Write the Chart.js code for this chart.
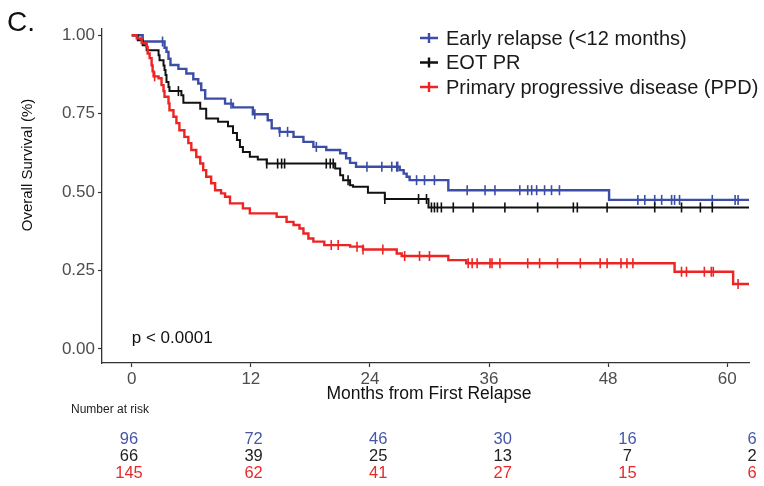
<!DOCTYPE html>
<html>
<head>
<meta charset="utf-8">
<script src="https://cdn.jsdelivr.net/npm/chart.js@4.4.1/dist/chart.umd.min.js"></script>
<style>
  html, body { margin: 0; padding: 0; background: #fff; }
  #wrap { position: relative; width: 764px; height: 486px; }
</style>
</head>
<body>
<div id="wrap"><canvas id="kmChart" width="764" height="486"></canvas></div>
<script>
// Kaplan-Meier overall survival by group
const seriesNames = ['Early relapse (<12 months)', 'EOT PR', 'Primary progressive disease (PPD)'];
const seriesColors = ['#3b4da6', '#111111', '#ee2323'];
const riskColors = ['#4657a8', '#222222', '#e8292b'];

// Early relapse: event times (months) and survival after each event
const earlyTimes = [0, 1.1, 3.3, 3.5, 3.7, 3.9, 4.7, 5.5, 6.2, 6.7, 7.0, 7.4, 9.4, 10.2, 12.2, 13.7, 14.1, 14.9, 16.3, 17.3, 18.3, 19.6, 21.0, 21.6, 22.0, 22.6, 27.0, 27.4, 27.7, 28.0, 31.9, 48.1, 62.2];
const earlySurv  = [1.0, 0.98, 0.96, 0.947, 0.925, 0.905, 0.893, 0.878, 0.86, 0.846, 0.825, 0.798, 0.782, 0.77, 0.748, 0.729, 0.703, 0.692, 0.676, 0.66, 0.644, 0.634, 0.624, 0.608, 0.593, 0.581, 0.57, 0.559, 0.549, 0.538, 0.506, 0.475, 0.475];
const earlyCensor = [3.1, 10.0, 12.4, 14.9, 15.7, 18.6, 23.7, 25.2, 26.2, 26.7, 26.8, 28.7, 29.5, 30.5, 33.8, 35.6, 36.6, 39.1, 39.9, 40.3, 40.8, 41.6, 42.3, 43.1, 51.0, 51.7, 52.7, 53.4, 54.4, 54.7, 55.2, 58.5, 60.8, 61.1];

// EOT PR
const eotTimes = [0, 0.6, 1.1, 1.5, 2.7, 2.8, 3.2, 3.3, 3.4, 3.5, 3.7, 3.8, 5.0, 5.2, 6.9, 7.5, 8.7, 9.7, 10.2, 10.6, 10.9, 11.2, 11.9, 12.7, 13.6, 20.5, 21.0, 21.3, 22.0, 22.3, 23.8, 25.5, 29.9, 62.2];
const eotSurv  = [1.0, 0.984, 0.968, 0.952, 0.936, 0.92, 0.904, 0.889, 0.873, 0.851, 0.835, 0.822, 0.809, 0.785, 0.766, 0.735, 0.724, 0.71, 0.688, 0.666, 0.644, 0.628, 0.613, 0.604, 0.591, 0.575, 0.554, 0.538, 0.522, 0.517, 0.498, 0.478, 0.451, 0.451];
const eotCensor = [4.7, 13.6, 14.7, 15.1, 15.4, 19.6, 20.0, 20.3, 21.8, 25.5, 28.9, 29.7, 30.2, 30.5, 30.8, 31.2, 32.4, 34.4, 37.6, 40.9, 44.5, 44.9, 47.9, 52.7, 55.4, 57.3, 58.5];

// Primary progressive disease
const ppdTimes = [0, 0.5, 1.0, 1.5, 1.6, 1.8, 2.0, 2.1, 2.2, 2.7, 3.0, 3.2, 3.3, 3.7, 3.8, 4.2, 4.5, 4.8, 5.3, 5.7, 6.0, 6.5, 6.9, 7.2, 7.5, 8.0, 8.4, 9.0, 9.4, 9.9, 11.2, 11.9, 14.6, 15.6, 16.3, 16.9, 17.3, 17.8, 18.3, 19.4, 22.0, 23.3, 26.7, 27.2, 31.9, 33.7, 54.7, 60.6, 62.2];
const ppdSurv  = [1.0, 0.99, 0.975, 0.963, 0.942, 0.927, 0.904, 0.885, 0.869, 0.863, 0.841, 0.822, 0.804, 0.783, 0.761, 0.74, 0.72, 0.697, 0.676, 0.656, 0.634, 0.612, 0.591, 0.57, 0.549, 0.528, 0.506, 0.496, 0.485, 0.464, 0.448, 0.432, 0.421, 0.405, 0.395, 0.384, 0.368, 0.352, 0.342, 0.331, 0.326, 0.317, 0.304, 0.296, 0.283, 0.273, 0.246, 0.207, 0.207];
const ppdCensor = [2.3, 20.1, 20.8, 22.7, 23.3, 25.3, 27.5, 29.0, 30.0, 33.9, 34.3, 34.8, 36.1, 36.3, 37.1, 39.9, 41.1, 42.9, 45.2, 47.2, 47.9, 49.3, 49.9, 50.5, 55.4, 55.9, 57.7, 58.4, 58.6, 61.1];

// Number at risk table
const riskTimes = [0, 12, 24, 36, 48, 60];
const earlyRisk = [96, 72, 46, 30, 16, 6];
const eotRisk = [66, 39, 25, 13, 7, 2];
const ppdRisk = [145, 62, 41, 27, 15, 6];

const xTicks = [0, 12, 24, 36, 48, 60];
const yTicks = [0, 0.25, 0.5, 0.75, 1];

const FONT = "'Liberation Sans', Arial, Helvetica, sans-serif";

function toPoints(times, surv) {
    return times.map((t, i) => ({ x: t, y: surv[i] }));
}

// survival value of a step curve at time t
function survAt(times, surv, t) {
    let s = surv[0];
    for (let i = 0; i < times.length; i++) {
        if (times[i] <= t) s = surv[i];
    }
    return s;
}

function censorPoints(censor, times, surv) {
    return censor.map(t => ({ x: t, y: survAt(times, surv, t) }));
}

const curves = [
    { times: earlyTimes, surv: earlySurv, censor: earlyCensor, width: 2.4 },
    { times: eotTimes, surv: eotSurv, censor: eotCensor, width: 2 },
    { times: ppdTimes, surv: ppdSurv, censor: ppdCensor, width: 2.4 }
];

const datasets = [];
curves.forEach((c, i) => {
    datasets.push({
        type: 'line',
        label: seriesNames[i],
        data: toPoints(c.times, c.surv),
        stepped: 'before',
        borderColor: seriesColors[i],
        borderWidth: c.width,
        pointRadius: 0,
        fill: false,
        order: 3 - i
    });
    datasets.push({
        type: 'scatter',
        label: seriesNames[i] + ' censored',
        data: censorPoints(c.censor, c.times, c.surv),
        pointStyle: 'line',
        rotation: 90,
        radius: 5,
        borderColor: seriesColors[i],
        borderWidth: 1.6,
        order: 3 - i
    });
});

const riskRows = [earlyRisk, eotRisk, ppdRisk];

const overlay = {
    id: 'overlay',
    afterDraw(chart) {
        const { ctx } = chart;
        const xs = chart.scales.x;
        const ys = chart.scales.y;
        ctx.save();

        // panel letter
        ctx.fillStyle = '#111';
        ctx.font = '28px ' + FONT;
        ctx.textAlign = 'left';
        ctx.textBaseline = 'middle';
        ctx.fillText('C.', 7, 23);

        // y title
        ctx.save();
        ctx.translate(28, 165);
        ctx.rotate(-Math.PI / 2);
        ctx.textAlign = 'center';
        ctx.font = '15px ' + FONT;
        ctx.fillStyle = '#111';
        ctx.fillText('Overall Survival (%)', 0, 0);
        ctx.restore();

        // x title
        ctx.textAlign = 'center';
        ctx.font = '17.5px ' + FONT;
        ctx.fillStyle = '#111';
        ctx.fillText('Months from First Relapse', 429, 394);

        // p value
        ctx.textAlign = 'left';
        ctx.font = '17px ' + FONT;
        ctx.fillText('p < 0.0001', xs.getPixelForValue(0), ys.getPixelForValue(0.033));

        // legend
        ctx.font = '20px ' + FONT;
        seriesNames.forEach((name, i) => {
            const ly = 38 + i * 24.5;
            ctx.strokeStyle = seriesColors[i];
            ctx.lineWidth = 2.4;
            ctx.beginPath();
            ctx.moveTo(420, ly);
            ctx.lineTo(438, ly);
            ctx.moveTo(429, ly - 5);
            ctx.lineTo(429, ly + 5);
            ctx.stroke();
            ctx.fillStyle = '#1a1a1a';
            ctx.fillText(name, 446, ly + 1);
        });

        // number at risk
        ctx.font = '12px ' + FONT;
        ctx.fillStyle = '#222';
        ctx.fillText('Number at risk', 71, 410);

        ctx.font = '16.5px ' + FONT;
        ctx.textAlign = 'center';
        riskRows.forEach((row, r) => {
            ctx.fillStyle = riskColors[r];
            row.forEach((n, k) => {
                const cx = 129 + (riskTimes[k] / 12) * 124.6;
                ctx.fillText(String(n), cx, 439 + r * 17);
            });
        });
        ctx.restore();
    }
};

new Chart(document.getElementById('kmChart').getContext('2d'), {
    data: { datasets: datasets },
    options: {
        responsive: false,
        animation: false,
        devicePixelRatio: 1,
        layout: { padding: { top: 29, right: 15, bottom: 80, left: 0 } },
        plugins: {
            legend: { display: false },
            tooltip: { enabled: false }
        },
        scales: {
            x: {
                type: 'linear',
                min: -3.0,
                max: 62.2,
                afterBuildTicks: scale => { scale.ticks = xTicks.map(v => ({ value: v })); },
                afterFit: scale => { scale.height = 43; },
                grid: { drawOnChartArea: false, drawTicks: true, tickLength: 4, tickWidth: 1.2, tickColor: '#333' },
                border: { display: true, color: '#333', width: 1.3 },
                ticks: { color: '#4d4d4d', font: { family: FONT, size: 17 }, padding: 2, maxRotation: 0 }
            },
            y: {
                type: 'linear',
                min: -0.045,
                max: 1.02,
                afterBuildTicks: scale => { scale.ticks = yTicks.map(v => ({ value: v })); },
                afterFit: scale => { scale.width = 102; },
                grid: { drawOnChartArea: false, drawTicks: true, tickLength: 4, tickWidth: 1.2, tickColor: '#333' },
                border: { display: true, color: '#333', width: 1.3 },
                ticks: { color: '#4d4d4d', font: { family: FONT, size: 17 }, padding: 3, callback: v => v.toFixed(2) }
            }
        }
    },
    plugins: [overlay]
});
</script>
</body>
</html>
